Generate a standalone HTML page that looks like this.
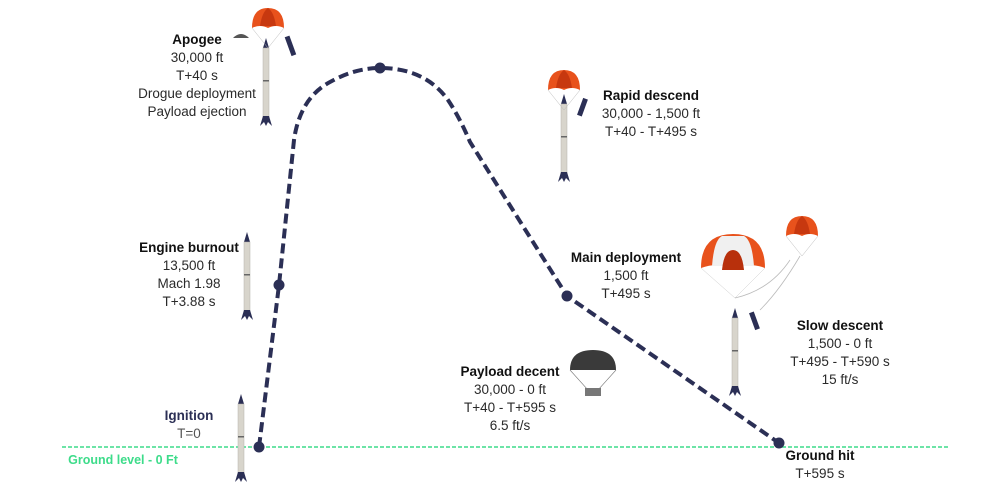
<!DOCTYPE html>
<html><head><meta charset="utf-8"><style>
html,body{margin:0;padding:0;background:#fff}
svg{display:block}
text{font-family:"Liberation Sans",sans-serif;font-size:13.5px;fill:#2a2a2a;text-anchor:middle}
.b{font-weight:bold;fill:#111}
</style></head><body>
<svg width="986" height="489" viewBox="0 0 986 489">
<defs>
<g id="rocket">
<path d="M0,-44 L3,-34 L-3,-34 Z" fill="#2b2f55"/>
<rect x="-3" y="-34" width="6" height="72" fill="#d8d5cc" stroke="#b5b2aa" stroke-width="0.5"/>
<rect x="-3" y="-2" width="6" height="1.5" fill="#666"/>
<path d="M-3,34 L-6,44 L-2,40 L0,44 L2,40 L6,44 L3,34 Z" fill="#2b2f55"/>
</g>
<g id="chute">
<path d="M-16,6 Q-16,-14 0,-14 Q16,-14 16,6 Q8,2 0,6 Q-8,2 -16,6 Z" fill="#e8521c"/>
<path d="M-8,4 Q-6,-10 0,-14 Q6,-10 8,4" fill="#c7380f"/>
<path d="M-16,6 L0,26 L16,6" stroke="#bbb" stroke-width="0.5" fill="none"/>
</g>
</defs>
<line x1="62" y1="447" x2="950" y2="447" stroke="#3ddc8a" stroke-width="1.5" stroke-dasharray="4,2"/>
<text x="123" y="464" class="b" style="fill:#3ddc8a;font-size:12.5px">Ground level - 0 Ft</text>
<path id="traj" d="M259,447 L279,285 L294,140 Q300,98 330,82 Q355,68 380,68 Q425,68 448,100 Q460,118 470,142 L567,296 L779,443" fill="none" stroke="#2b2f55" stroke-width="4" stroke-dasharray="10,5"/>
<g fill="#2b2f55">
<circle cx="259" cy="447" r="5.5"/>
<circle cx="279" cy="285" r="5.5"/>
<circle cx="380" cy="68" r="5.5"/>
<circle cx="567" cy="296" r="5.5"/>
<circle cx="779" cy="443" r="5.5"/>
</g>
<use href="#rocket" x="241" y="438"/>
<use href="#rocket" x="247" y="276"/>
<use href="#rocket" x="266" y="82"/>
<use href="#chute" x="268" y="22"/>
<path d="M233,38 Q241,30 249,38 Z" fill="#555"/>
<rect x="288" y="36" width="5" height="20" fill="#2b2f55" transform="rotate(-20 290 46)"/>
<use href="#rocket" x="564" y="138"/>
<use href="#chute" x="564" y="84"/>
<rect x="580" y="98" width="5" height="18" fill="#2b2f55" transform="rotate(20 582 107)"/>
<use href="#rocket" x="735" y="352"/>
<g>
<path d="M701,268 Q701,234 733,234 Q765,234 765,268 Q749,262 733,268 Q717,262 701,268 Z" fill="#e8521c"/>
<path d="M712,266 Q714,240 722,236 L744,236 Q752,240 754,266 Z" fill="#f0f0f0"/>
<path d="M722,270 Q724,250 733,250 Q742,250 744,270 Z" fill="#b8300c"/>
<path d="M701,268 L735,298 L765,268" stroke="#ccc" stroke-width="0.5" fill="none"/>
</g>
<use href="#chute" x="802" y="230"/>
<path d="M735,298 Q770,290 790,260 M760,310 Q780,290 800,256" stroke="#bbb" stroke-width="0.8" fill="none"/>
<rect x="752" y="312" width="5" height="18" fill="#2b2f55" transform="rotate(-20 754 321)"/>
<g>
<path d="M570,370 Q570,350 593,350 Q616,350 616,370 Z" fill="#3a3a3a"/>
<path d="M570,370 L588,390 M616,370 L598,390" stroke="#777" stroke-width="0.6"/>
<rect x="585" y="388" width="16" height="8" fill="#777"/>
</g>
<g>
<text x="197" y="44" class="b">Apogee</text><text x="197" y="62">30,000 ft</text><text x="197" y="80">T+40 s</text><text x="197" y="98">Drogue deployment</text><text x="197" y="116">Payload ejection</text></g>
<g>
<text x="651" y="100" class="b">Rapid descend</text><text x="651" y="118">30,000 - 1,500 ft</text><text x="651" y="136">T+40 - T+495 s</text></g>
<g>
<text x="189" y="252" class="b">Engine burnout</text><text x="189" y="270">13,500 ft</text><text x="189" y="288">Mach 1.98</text><text x="189" y="306">T+3.88 s</text></g>
<g>
<text x="626" y="262" class="b">Main deployment</text><text x="626" y="280">1,500 ft</text><text x="626" y="298">T+495 s</text></g>
<g>
<text x="840" y="330" class="b">Slow descent</text><text x="840" y="348">1,500 - 0 ft</text><text x="840" y="366">T+495 - T+590 s</text><text x="840" y="384">15 ft/s</text></g>
<g>
<text x="510" y="376" class="b">Payload decent</text><text x="510" y="394">30,000 - 0 ft</text><text x="510" y="412">T+40 - T+595 s</text><text x="510" y="430">6.5 ft/s</text></g>
<g>
<text x="189" y="420" class="b" style="fill:#2b2f55">Ignition</text><text x="189" y="438" style="fill:#555">T=0</text></g>
<g>
<text x="820" y="460" class="b">Ground hit</text><text x="820" y="478">T+595 s</text></g>
</svg>
</body></html>
